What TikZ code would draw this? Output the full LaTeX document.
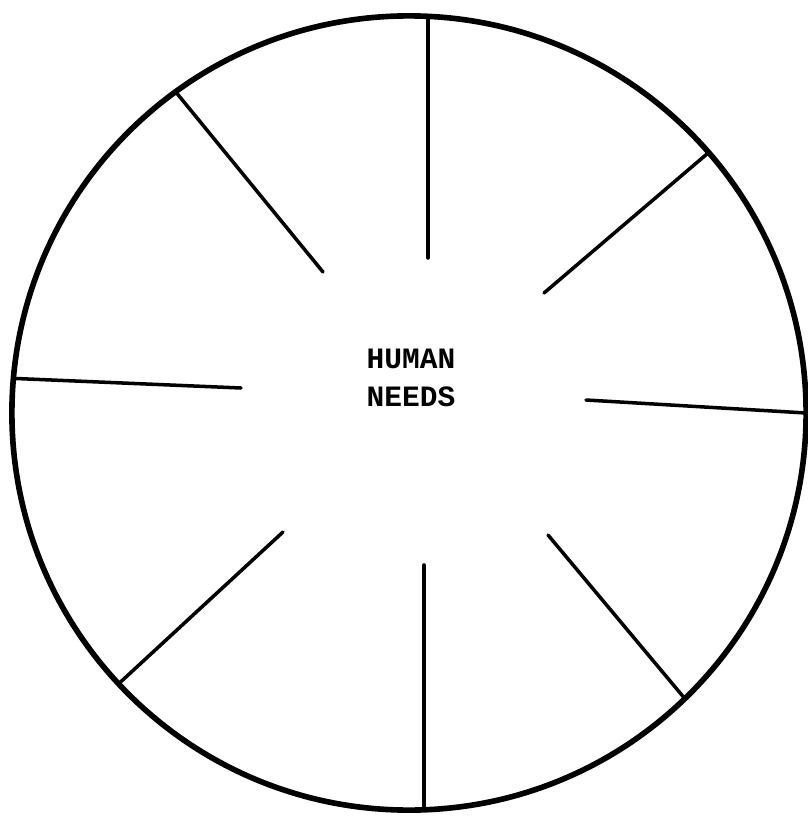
\documentclass[tikz,border=0pt]{standalone}
\usepackage{fontspec}
\newfontfamily\typefont{Liberation Mono}
\usetikzlibrary{positioning}
\tikzset{
  rimln/.style={circle, draw, line width=4pt, inner sep=0pt, outer sep=0pt, minimum size=19.85cm},
  spokeln/.style={line width=2.5pt, line cap=round},
  hubtext/.style={align=center, font=\typefont\bfseries\fontsize{21}{26.5}\selectfont},
}
\begin{document}
\begin{tikzpicture}[x=0.025cm, y=-0.025cm]
        \useasboundingbox (0,0) rectangle (807,820);
        \node[rimln] (rim) at (409,413) {};
        \node[hubtext] (hub) at (411,378) {HUMAN\\NEEDS};
        % inner ends of the spokes
        \foreach \i/\px/\py in {1/428/258, 2/544/293, 3/586/400, 4/548/535,
                                5/424/565, 6/283/532, 7/241/388, 8/323/272}
          \coordinate (in\i) at (\px,\py);
        \draw[spokeln] (in1 |- rim.north) -- (in1);
        \draw[spokeln] (in5 |- rim.south) -- (in5);
        \foreach \i/\ang in {2/41.7, 3/0.6, 4/-46.3, 6/223.1, 7/175.2, 8/126.3}
          \draw[spokeln] (rim.\ang) -- (in\i);
      \end{tikzpicture}
\end{document}
